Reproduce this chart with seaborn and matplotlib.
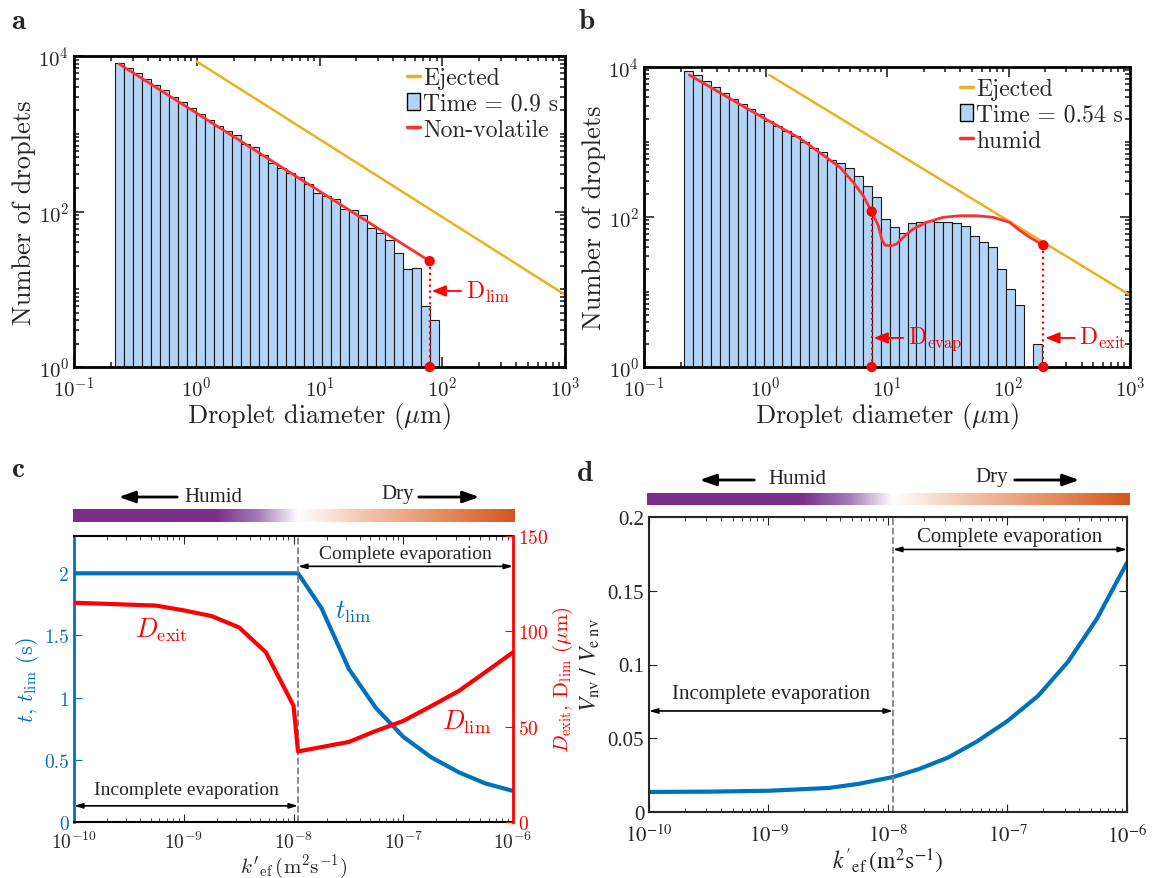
import numpy as np
import matplotlib
matplotlib.use("Agg")
import matplotlib.pyplot as plt
from matplotlib.colors import LinearSegmentedColormap
from matplotlib.lines import Line2D
from matplotlib.patches import Patch, FancyArrowPatch
from matplotlib.ticker import LogLocator, NullFormatter
import seaborn as sns

sns.set_style("ticks")
plt.rcParams["font.family"] = ["cmr10", "DejaVu Serif"]
plt.rcParams["mathtext.fontset"] = "cm"
plt.rcParams["axes.formatter.use_mathtext"] = True

# ── data ────────────────────────────────────────────────────────────────
# panel a : histogram at t = 0.9 s (log bins between lo and hi)
a_bin_lo, a_bin_hi = 0.215, 94.0
a_counts = [8130, 7030, 6000, 5020, 4240, 3690, 3000, 2590, 2125, 1780, 1500, 1260,
            1100, 973, 738, 682, 538, 417, 363, 310, 280, 226, 173, 157, 145, 108,
            105, 90, 61, 53, 43, 29, 18, 19, 6, 4]
a_eject_d = [1.0, 1000.0]
a_eject_n = [8500, 8.5]
a_nonvol_d = [0.233, 79.0]
a_nonvol_n = [7900, 23]
a_dlim = 79.0

# panel b : histogram at t = 0.54 s
b_bin_lo, b_bin_hi = 0.213, 187.6
b_counts = [8900, 7820, 6450, 5370, 4570, 3780, 3240, 2780, 2340, 1920, 1650, 1390,
            1190, 1010, 840, 736, 580, 525, 454, 355, 262, 183, 94, 74, 62, 83,
            86, 88, 85, 86, 83, 75, 55, 47, 40, 20, 11, 6.8, 0, 2.0]
b_eject_d = [1.074, 1000.0]
b_eject_n = [7820, 9.1]
b_humid_d = [0.236, 0.846, 1.92, 4.1, 5.28, 6.38, 7.48, 8.48, 9.04, 9.63, 10.9, 12.0,
             14.5, 16.4, 21.2, 29, 40, 54.7, 75, 102, 124, 150, 193.6]
b_humid_n = [7820, 2360, 1120, 460, 290, 192, 118, 76.6, 51, 42, 41.5, 43.7,
             59, 69, 85, 99, 104, 104, 99, 85, 66, 53.5, 42]
b_devap, b_devap_n = 7.48, 118
b_dexit, b_dexit_n = 193.6, 42

# panel c
k_crit = 1.1e-8
c_t_k = [1e-10, 1.1e-8, 1.8e-8, 3.2e-8, 5.6e-8, 1e-7, 1.8e-7, 3.2e-7, 5.6e-7, 1e-6]
c_t_s = [2.0, 2.0, 1.72, 1.23, 0.92, 0.685, 0.52, 0.40, 0.31, 0.25]
c_d_k = [1e-10, 5.6e-10, 1e-9, 1.8e-9, 3.2e-9, 5.6e-9, 1e-8, 1.1e-8,
         3.2e-8, 5.6e-8, 1e-7, 1.8e-7, 3.2e-7, 5.6e-7, 1e-6]
c_d_um = [115, 113.5, 111, 108, 102, 89, 61, 37,
          42, 47.7, 53, 60.8, 68.7, 78.6, 89]

# panel d
d_k = [1e-10, 3.2e-10, 1e-9, 3.2e-9, 5.6e-9, 1.1e-8, 1.8e-8, 3.2e-8, 5.6e-8,
       1e-7, 1.8e-7, 3.2e-7, 5.6e-7, 1e-6]
d_ratio = [0.0136, 0.0138, 0.0144, 0.0163, 0.019, 0.0237, 0.029, 0.037, 0.048,
           0.0617, 0.0787, 0.1017, 0.131, 0.169]

# ── helpers ─────────────────────────────────────────────────────────────
W, H = 1163, 879
bar_blue = "#b3d4f6"
gold = "#edb120"
red_line = "#ff3030"
m_blue = "#0072bd"
times = ["Liberation Serif", "DejaVu Serif"]


def box(x0, y0, x1, y1):
    return [x0 / W, 1 - y1 / H, (x1 - x0) / W, (y1 - y0) / H]


def fpx(x, y):
    return (x / W, 1 - y / H)


def hist_panel(ax, lo, hi, counts):
    n = len(counts)
    edges = np.linspace(np.log10(lo), np.log10(hi), n + 1)
    centers = 10 ** ((edges[:-1] + edges[1:]) / 2)
    sns.histplot(x=centers, weights=counts, bins=n, binrange=(edges[0], edges[-1]),
                 log_scale=(True, False), ax=ax, color=bar_blue, alpha=1,
                 edgecolor="#1a1a1a", linewidth=0.8)
    ax.set_yscale("log")
    ax.set_xlim(0.1, 1000)
    ax.set_ylim(1, 1e4)
    ax.set_yticks([1, 100, 1e4])
    ax.yaxis.set_minor_locator(LogLocator(base=10, subs=np.arange(1, 10), numticks=20))
    ax.yaxis.set_minor_formatter(NullFormatter())
    ax.xaxis.set_minor_locator(LogLocator(base=10, subs=np.arange(2, 10), numticks=20))
    ax.xaxis.set_minor_formatter(NullFormatter())
    ax.tick_params(which="both", direction="in", top=True, right=True, width=1.2,
                   labelsize=15)
    ax.tick_params(axis="x", pad=6)
    ax.tick_params(which="major", length=7)
    ax.tick_params(which="minor", length=3.5)
    for s in ax.spines.values():
        s.set_linewidth(2)
        s.set_color("black")
    ax.set_xlabel(r"Droplet diameter ($\mu$m)", fontsize=19, labelpad=0)
    ax.set_ylabel("Number of droplets", fontsize=19, labelpad=2)


def limit_marker(ax, d, n, label, text_dx, text_y):
    ax.plot([d, d], [n, 1], ls=":", color="red", lw=1.6, zorder=4)
    sns.scatterplot(x=[d, d], y=[n, 1], ax=ax, color="red", s=55, zorder=5,
                    clip_on=False, edgecolor="none")
    ax.annotate(label, xy=(d * 1.04, text_y), xytext=(text_dx, 0),
                textcoords="offset pixels", va="center", ha="left", color="red",
                fontsize=17,
                arrowprops=dict(arrowstyle="-|>,head_length=0.5,head_width=0.2",
                                color="red", lw=1.3, shrinkA=1, shrinkB=0))


def legend_panel(ax, time_label, curve_label):
    handles = [Line2D([], [], color=gold, lw=2.5),
               Patch(facecolor=bar_blue, edgecolor="black", linewidth=1),
               Line2D([], [], color=red_line, lw=2.5)]
    ax.legend(handles, ["Ejected", time_label, curve_label], loc="upper right",
              bbox_to_anchor=(1.015, 1.01), frameon=False, fontsize=17,
              handlelength=0.55, handletextpad=0.15, labelspacing=0.15,
              borderaxespad=0.2)


def humid_dry_bar(x0, y0, x1, y1, humid_c, humid_arrow, dry_c, dry_arrow):
    cmap = LinearSegmentedColormap.from_list(
        "humid_dry", [(0, "#7a2d8b"), (0.32, "#7a2d8b"), (0.42, "#a77cb9"),
                      (0.51, "#ffffff"), (0.65, "#f4c9b2"), (0.82, "#e7936a"),
                      (1, "#d5561f")])
    cax = fig.add_axes(box(x0, y0, x1, y1))
    cax.imshow(np.linspace(0, 1, 256)[None, :], aspect="auto", cmap=cmap)
    cax.axis("off")
    fig.text(*fpx(*humid_c), "Humid", ha="center", va="center", fontsize=15,
             family=times)
    fig.text(*fpx(*dry_c), "Dry", ha="center", va="center", fontsize=15,
             family=times)
    for start, end in [humid_arrow, dry_arrow]:
        fig.add_artist(FancyArrowPatch(
            fpx(*start), fpx(*end), transform=fig.transFigure,
            arrowstyle="-|>,head_length=0.7,head_width=0.25", color="black", lw=2,
            mutation_scale=14))


fig = plt.figure(figsize=(W / 100, H / 100), dpi=100)

# ── panel a ─────────────────────────────────────────────────────────────
ax_a = fig.add_axes(box(74, 57, 565, 368))
hist_panel(ax_a, a_bin_lo, a_bin_hi, a_counts)
sns.lineplot(x=a_eject_d, y=a_eject_n, ax=ax_a, color=gold, lw=1.8)
sns.lineplot(x=a_nonvol_d, y=a_nonvol_n, ax=ax_a, color=red_line, lw=2)
limit_marker(ax_a, a_dlim, a_nonvol_n[-1], r"$\mathrm{D_{lim}}$", 34, 9.5)
legend_panel(ax_a, "Time = 0.9 s", "Non-volatile")

# ── panel b ─────────────────────────────────────────────────────────────
ax_b = fig.add_axes(box(644, 68, 1130, 368))
hist_panel(ax_b, b_bin_lo, b_bin_hi, b_counts)
sns.lineplot(x=b_eject_d, y=b_eject_n, ax=ax_b, color=gold, lw=1.8)
sns.lineplot(x=b_humid_d, y=b_humid_n, ax=ax_b, color=red_line, lw=2,
             sort=False, estimator=None)
limit_marker(ax_b, b_devap, b_devap_n, r"$\mathrm{D_{evap}}$", 34, 2.44)
limit_marker(ax_b, b_dexit, b_dexit_n, r"$\mathrm{D_{exit}}$", 34, 2.44)
legend_panel(ax_b, "Time = 0.54 s", "humid")

# ── panel c ─────────────────────────────────────────────────────────────
ax_c = fig.add_axes(box(74, 537, 513, 823))
sns.lineplot(x=c_t_k, y=c_t_s, ax=ax_c, color=m_blue, lw=3)
ax_c.set_xscale("log")
ax_c.set_xlim(1e-10, 1e-6)
ax_c.set_ylim(0, 2.3)
ax_c.set_yticks([0, 0.5, 1, 1.5, 2], ["0", "0.5", "1", "1.5", "2"])
ax_c2 = ax_c.twinx()
sns.lineplot(x=c_d_k, y=c_d_um, ax=ax_c2, color="red", lw=3)
ax_c2.set_ylim(0, 150)
ax_c2.set_yticks([0, 50, 100, 150])
ax_c.axvline(k_crit, color="gray", ls="--", lw=1.3)

ax_c.tick_params(which="both", direction="in", top=True, labelsize=14)
ax_c.tick_params(axis="x", pad=6)
ax_c.tick_params(axis="y", colors=m_blue)
ax_c.tick_params(which="major", length=6)
ax_c.tick_params(which="minor", length=3)
ax_c2.tick_params(axis="y", direction="in", colors="red", labelsize=14, length=6)
for s in ["top", "bottom"]:
    ax_c.spines[s].set_linewidth(1.5)
    ax_c.spines[s].set_color("black")
ax_c.spines["left"].set_color(m_blue)
ax_c.spines["left"].set_linewidth(2)
ax_c.spines["right"].set_visible(False)
for s in ["left", "top", "bottom"]:
    ax_c2.spines[s].set_visible(False)
ax_c2.spines["right"].set_color("red")
ax_c2.spines["right"].set_linewidth(2)

ax_c.set_xlabel(r"$k'_{\rm ef}\,(\mathrm{m^2s^{-1}})$", fontsize=15, labelpad=0)
ax_c.set_ylabel(r"$t$, $t_{\rm lim}$ (s)", fontsize=16, color=m_blue, labelpad=2)
ax_c2.set_ylabel(r"$D_{\rm exit}$, $\mathrm{D_{lim}}$ ($\mu$m)", fontsize=15,
                 color="red", labelpad=2)

arrow_kw = dict(arrowstyle="<|-|>,head_length=0.5,head_width=0.15", color="black",
                lw=1.2, shrinkA=0, shrinkB=0)
ax_c.annotate("", xy=(k_crit, 2.056), xytext=(1e-6, 2.056), arrowprops=arrow_kw)
ax_c.text(10 ** -6.98, 2.16, "Complete evaporation", ha="center", va="center",
          fontsize=14, family=times)
ax_c.annotate("", xy=(1e-10, 0.13), xytext=(k_crit, 0.13), arrowprops=arrow_kw)
ax_c.text(10 ** -8.98, 0.26, "Incomplete evaporation", ha="center", va="center",
          fontsize=14, family=times)
ax_c.text(10 ** -7.45, 1.70, r"$t_{\rm lim}$", color=m_blue, fontsize=19,
          ha="center", va="center")
ax_c2.text(10 ** -9.2, 101, r"$D_{\rm exit}$", color="red", fontsize=19,
           ha="center", va="center")
ax_c2.text(10 ** -6.42, 53, r"$D_{\rm lim}$", color="red", fontsize=19,
           ha="center", va="center")

humid_dry_bar(73, 510, 515, 523, (213, 497), ((180, 498), (116, 498)),
              (398, 495), ((416, 498), (482, 498)))

# ── panel d ─────────────────────────────────────────────────────────────
ax_d = fig.add_axes(box(649, 518, 1127, 813))
sns.lineplot(x=d_k, y=d_ratio, ax=ax_d, color=m_blue, lw=3)
ax_d.set_xscale("log")
ax_d.set_xlim(1e-10, 1e-6)
ax_d.set_ylim(0, 0.2)
ax_d.set_xticks([1e-10, 1e-9, 1e-8, 1e-7, 1e-6],
                [r"$10^{-10}$", r"$10^{-9}$", r"$10^{-8}$", r"$10^{-7}$", r"$10^{-6}$"],
                math_fontfamily="stix")
ax_d.set_yticks([0, 0.05, 0.1, 0.15, 0.2], ["0", "0.05", "0.1", "0.15", "0.2"],
                family=times)
ax_d.tick_params(which="both", direction="in", top=True, right=True, labelsize=15,
                 color="#262626")
ax_d.tick_params(axis="x", pad=8)
ax_d.tick_params(which="major", length=6)
ax_d.tick_params(which="minor", length=3)
for s in ax_d.spines.values():
    s.set_linewidth(1.5)
    s.set_color("#262626")
ax_d.axvline(k_crit, color="gray", ls="--", lw=1.3)
ax_d.set_xlabel(r"$k'_{\rm ef}\,(\mathrm{m^2s^{-1}})$", fontsize=17, labelpad=0,
                math_fontfamily="stix")
ax_d.set_ylabel(r"$V_{\rm nv}\ /\ V_{\rm e\ nv}$", fontsize=17, labelpad=4,
                math_fontfamily="stix")
ax_d.annotate("", xy=(k_crit, 0.178), xytext=(1e-6, 0.178), arrowprops=arrow_kw)
ax_d.text(10 ** -6.98, 0.187, "Complete evaporation", ha="center", va="center",
          fontsize=15, family=times)
ax_d.annotate("", xy=(1e-10, 0.0685), xytext=(k_crit, 0.0685), arrowprops=arrow_kw)
ax_d.text(10 ** -8.98, 0.080, "Incomplete evaporation", ha="center", va="center",
          fontsize=15, family=times)

humid_dry_bar(647, 494, 1130, 506, (797, 480), ((757, 481), (697, 481)),
              (992, 478), ((1012, 481), (1082, 481)))

# ── panel letters ───────────────────────────────────────────────────────
for letter, xy in zip("abcd", [(18, 22), (587, 22), (18, 470), (585, 474)]):
    fig.text(*fpx(*xy), letter, fontsize=21, family=["cmb10", "DejaVu Serif"],
             ha="center", va="center")

fig.savefig("out.png", dpi=100)
